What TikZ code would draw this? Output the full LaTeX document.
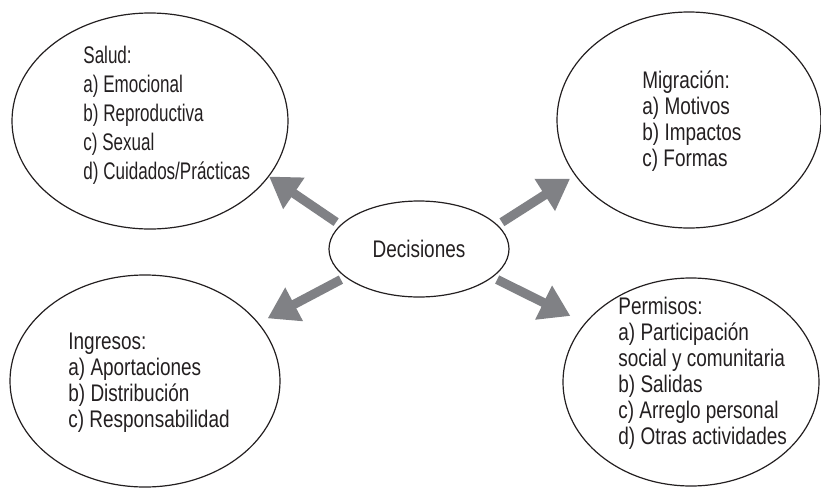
\documentclass[tikz,border=0pt]{standalone}
\usepackage{fontspec}
\setmainfont[FakeStretch=0.79]{Liberation Sans}
\newfontfamily\narrowsans[FakeStretch=0.71]{Liberation Sans}
\usetikzlibrary{shapes.geometric,arrows.meta}
\definecolor{arrowgray}{RGB}{128,129,133}
\definecolor{inkblack}{RGB}{35,31,32}

\begin{document}
\begin{tikzpicture}[
    x=0.5pt,
    y=-0.5pt,
    topic/.style={
        ellipse,
        draw=inkblack,
        line width=0.6pt,
        inner sep=0pt
    },
    centre/.style={
        ellipse,
        draw=inkblack,
        line width=0.6pt,
        minimum width=90pt,
        minimum height=48pt,
        inner sep=0pt,
        text=inkblack,
        font=\fontsize{12}{13}\selectfont
    },
    itemlist/.style={
        anchor=west,
        inner sep=0pt,
        align=left,
        text=inkblack,
        font=\fontsize{12}{13}\selectfont
    },
    link/.style={
        -{Triangle[length=15pt,width=18pt]},
        line width=4.6pt,
        arrowgray,
        shorten <=2.5pt
    }
]
\useasboundingbox (0,0) rectangle (821,488);

\node[centre] (dec) at (419,249) {Decisiones};

\node[topic, minimum width=138pt, minimum height=108pt] (salud) at (150,121) {};
\node[topic, minimum width=132pt, minimum height=108pt] (migracion) at (689,120) {};
\node[topic, minimum width=135pt, minimum height=106pt] (ingresos) at (145,381) {};
\node[topic, minimum width=128pt, minimum height=104pt] (permisos) at (691,382) {};

\node[itemlist, font=\narrowsans\fontsize{12}{14.5}\selectfont] (saludtext) at (83,115) {
    Salud:\\
    a) Emocional\\
    b) Reproductiva\\
    c) Sexual\\
    d) Cuidados/Prácticas
};
\node[itemlist] (migraciontext) at (642,121) {
    Migración:\\
    a) Motivos\\
    b) Impactos\\
    c) Formas
};
\node[itemlist] (ingresostext) at (68,383) {
    Ingresos:\\
    a) Aportaciones\\
    b) Distribución\\
    c) Responsabilidad
};
\node[itemlist] (permisostext) at (618,373) {
    Permisos:\\
    a) Participación\\
    social y comunitaria\\
    b) Salidas\\
    c) Arreglo personal\\
    d) Otras actividades
};

\draw[link, shorten >=0pt] (dec.163.7) -- (salud.-25);
\draw[link, shorten >=3pt] (dec.17.4) -- (migracion.-154);
\draw[link, shorten >=5pt] (dec.201) -- (ingresos.27);
\draw[link, shorten >=8pt] (dec.-21.4) -- (permisos.151.8);

\end{tikzpicture}
\end{document}
